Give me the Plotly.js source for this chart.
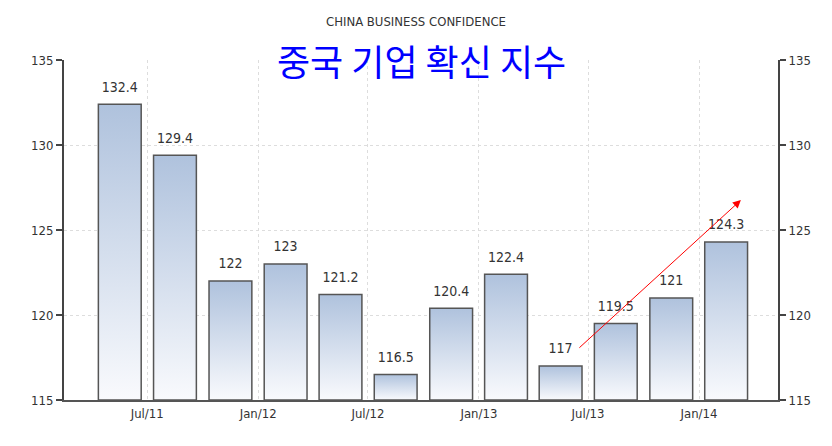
<!DOCTYPE html>
<html>
<head>
<meta charset="utf-8">
<script src="https://cdn.plot.ly/plotly-3.0.1.min.js"></script>
<style>
html,body{margin:0;padding:0;background:#fff;}
#chart{width:832px;height:446px;}
</style>
</head>
<body>
<div id="chart"></div>
<script>
// Quarter start dates (bars drawn at the middle of each quarter)
const quarters = ['2011-04-01','2011-07-01','2011-10-01','2012-01-01','2012-04-01','2012-07-01',
                  '2012-10-01','2013-01-01','2013-04-01','2013-07-01','2013-10-01','2014-01-01'];
const confidence = [132.4, 129.4, 122, 123, 121.2, 116.5, 120.4, 122.4, 117, 119.5, 121, 124.3];
const axisBase = 115;
const chartTitle = 'CHINA BUSINESS CONFIDENCE';
const koreanTitle = '중국 기업 확신 지수';

const narrow = '"DejaVu Sans Condensed", "Liberation Sans Narrow", "Arial Narrow", sans-serif';
const DAY = 86400000;

const bars = {
  type: 'bar',
  x: quarters,
  y: confidence.map(v => v - axisBase),
  base: axisBase,
  xperiod: 'M3',
  xperiodalignment: 'middle',
  width: 71 * DAY,
  marker: {color: '#c9d6e8', line: {color: '#555555', width: 1.5}},
  hoverinfo: 'skip'
};
// value labels above each bar (also anchors the right-hand axis)
const labels = {
  type: 'scatter', mode: 'markers+text',
  x: quarters, y: confidence,
  xperiod: 'M3', xperiodalignment: 'middle',
  yaxis: 'y2',
  marker: {size: 13, color: 'rgba(0,0,0,0)'},
  text: confidence.map(v => String(v)),
  textposition: 'top center',
  textfont: {family: narrow, size: 14, color: '#333333'},
  cliponaxis: false,
  hoverinfo: 'skip', showlegend: false
};

const layout = {
  width: 832, height: 446,
  margin: {l: 64, r: 54, t: 60, b: 46},
  paper_bgcolor: '#ffffff', plot_bgcolor: '#ffffff',
  showlegend: false,
  title: {
    text: chartTitle, x: 0.5, xanchor: 'center', y: 0.951, yanchor: 'middle',
    font: {family: narrow, size: 13, color: '#333333'}
  },
  xaxis: {
    type: 'date',
    range: ['2011-02-13', '2014-05-12'],
    tick0: '2011-01-01', dtick: 'M6', tickformat: '%b/%y',
    showgrid: true, gridcolor: '#dddddd', griddash: 'dot', gridwidth: 1,
    showline: true, linecolor: '#555555', linewidth: 2,
    ticks: '', tickfont: {family: narrow, size: 13, color: '#333333'},
    zeroline: false, fixedrange: true
  },
  yaxis: {
    range: [115, 135], dtick: 5, tick0: 115,
    showgrid: true, gridcolor: '#dddddd', griddash: 'dot', gridwidth: 1,
    showline: true, linecolor: '#444444', linewidth: 2,
    ticks: 'outside', ticklen: 6, tickwidth: 2, tickcolor: '#444444',
    tickfont: {family: narrow, size: 13, color: '#333333'},
    zeroline: false, fixedrange: true
  },
  yaxis2: {
    overlaying: 'y', side: 'right',
    range: [115, 135], dtick: 5, tick0: 115,
    showgrid: false,
    showline: true, linecolor: '#444444', linewidth: 2,
    ticks: 'outside', ticklen: 6, tickwidth: 2, tickcolor: '#444444',
    tickfont: {family: narrow, size: 13, color: '#333333'},
    zeroline: false, fixedrange: true
  },
  annotations: [
    {
      text: koreanTitle, xref: 'paper', yref: 'paper', x: 0.501, y: 1.0,
      xanchor: 'center', yanchor: 'middle', showarrow: false,
      font: {family: '"Noto Sans CJK KR", sans-serif', size: 36, color: '#0000ff'}
    },
    {
      text: '', xref: 'paper', yref: 'paper', x: 0.948, y: 0.588,
      axref: 'pixel', ayref: 'pixel', ax: -163, ay: 149,
      showarrow: true, arrowhead: 2, arrowsize: 1.6, arrowwidth: 1, arrowcolor: '#ff0000'
    }
  ]
};

Plotly.newPlot('chart', [bars, labels], layout, {displayModeBar: false, staticPlot: true}).then(function (gd) {
  const svg = gd.querySelector('svg.main-svg');
  const ns = 'http://www.w3.org/2000/svg';
  let defs = svg.querySelector('defs');
  if (!defs) { defs = document.createElementNS(ns, 'defs'); svg.insertBefore(defs, svg.firstChild); }
  const grad = document.createElementNS(ns, 'linearGradient');
  grad.setAttribute('id', 'barGrad');
  grad.setAttribute('x1', '0'); grad.setAttribute('y1', '0');
  grad.setAttribute('x2', '0'); grad.setAttribute('y2', '1');
  [['0', '#afc2dd'], ['1', '#f9fafd']].forEach(function (s) {
    const st = document.createElementNS(ns, 'stop');
    st.setAttribute('offset', s[0]); st.setAttribute('stop-color', s[1]);
    grad.appendChild(st);
  });
  defs.appendChild(grad);
  gd.querySelectorAll('.barlayer .point path').forEach(function (p) {
    p.style.fill = 'url(#barGrad)';
  });
});
</script>
</body>
</html>
